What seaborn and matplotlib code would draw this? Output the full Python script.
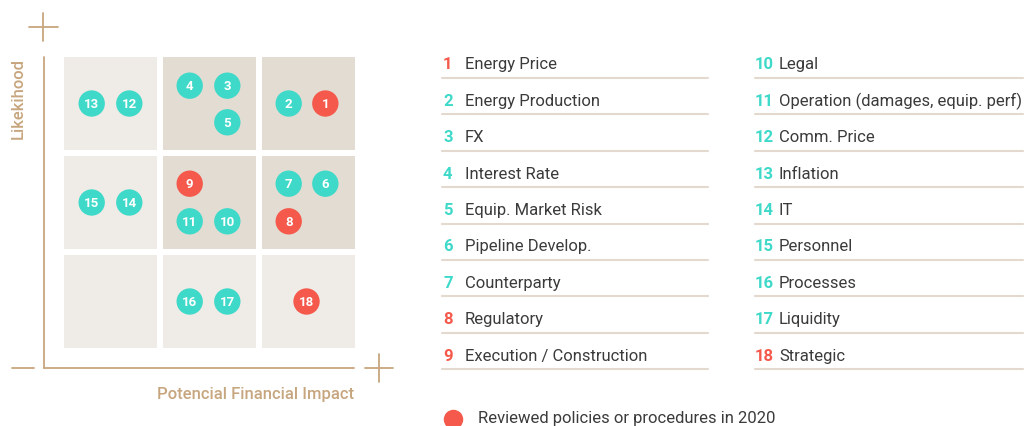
import matplotlib.pyplot as plt
import numpy as np
import pandas as pd
import seaborn as sns
from matplotlib.colors import ListedColormap
from matplotlib.lines import Line2D

# data
risk_ids = list(range(1, 19))
risk_names = ["Energy Price", "Energy Production", "FX", "Interest Rate",
              "Equip. Market Risk", "Pipeline Develop.", "Counterparty",
              "Regulatory", "Execution / Construction", "Legal",
              "Operation (damages, equip. perf)", "Comm. Price", "Inflation",
              "IT", "Personnel", "Processes", "Liquidity", "Strategic"]
reviewed = [True, False, False, False, False, False, False, True, True,
            False, False, False, False, False, False, False, False, True]
# position inside the 3x3 matrix (cell units)
impact = [2.67, 2.30, 1.68, 1.30, 1.68, 2.67, 2.30, 2.30, 1.30,
          1.68, 1.30, 0.69, 0.31, 0.69, 0.31, 1.30, 1.68, 2.48]
likelihood = [2.50, 2.50, 2.68, 2.68, 2.31, 1.69, 1.69, 1.31, 1.69,
              1.31, 1.31, 2.50, 2.50, 1.50, 1.50, 0.50, 0.50, 0.50]
# cell shading, top row first
cell_level = [[0, 1, 1],
              [0, 1, 1],
              [0, 0, 0]]

teal = "#3fd9c9"
red = "#f4594b"
tan = "#c7a67f"
txt = "#3b3b3b"
rule = "#e3d9ce"

sns.set_style("white")
plt.rcParams["font.family"] = ["Roboto", "DejaVu Sans"]

W, H = 1024, 427
fig = plt.figure(figsize=(W / 100, H / 100), dpi=100)


def fx(px):
    return px / W


def fy(py):
    return 1 - py / H


# risk matrix
ax = fig.add_axes([fx(61), fy(352), 297 / W, 297 / H])
sns.heatmap(np.flipud(np.array(cell_level)), cmap=ListedColormap(["#efebe6", "#e3dcd2"]),
            cbar=False, linewidths=4.3, linecolor="white", ax=ax)
ax.set_xlim(0, 3)
ax.set_ylim(0, 3)
ax.set_axis_off()

df = pd.DataFrame({"id": risk_ids, "impact": impact, "likelihood": likelihood,
                   "reviewed": reviewed})
sns.scatterplot(data=df, x="impact", y="likelihood", hue="reviewed",
                palette={True: red, False: teal}, s=360, linewidth=0,
                legend=False, ax=ax, zorder=3)
for _, r in df.iterrows():
    ax.text(r["impact"], r["likelihood"], str(r["id"]), ha="center", va="center",
            color="white", fontsize=9.5, fontweight="bold", zorder=4)

# axis decorations
segs = [((44, 44), (58, 369)), ((44, 354), (369, 369)), ((12, 34), (369, 369)),
        ((29, 58), (28, 28)), ((43, 43), (14, 42)),
        ((365, 393), (369, 369)), ((379, 379), (355, 383))]
for xs, ys in segs:
    fig.add_artist(Line2D([fx(x) for x in xs], [fy(y) for y in ys],
                          transform=fig.transFigure, color=tan, lw=1.3))

fig.text(fx(354), fy(395), "Potencial Financial Impact", ha="right", va="center",
         color=tan, fontsize=12, fontweight="medium")
fig.text(fx(18), fy(58), "Likekihood", ha="center", va="top", rotation=90,
         color=tan, fontsize=12, fontweight="medium")

# numbered list
for i, (rid, name, rev) in enumerate(zip(risk_ids, risk_names, reviewed)):
    col, row = divmod(i, 9)
    y = 65 + row * 36.4
    line_y = 79 + row * 36.4
    c = red if rev else teal
    if col == 0:
        fig.text(fx(443), fy(y), str(rid), ha="left", va="center", color=c,
                 fontsize=12, fontweight="bold")
        fig.text(fx(465), fy(y), name, ha="left", va="center", color=txt, fontsize=12)
        xs = (442, 708)
    else:
        fig.text(fx(755), fy(y), str(rid), ha="left", va="center", color=c,
                 fontsize=12, fontweight="bold")
        fig.text(fx(779), fy(y), name, ha="left", va="center", color=txt, fontsize=12)
        xs = (755, 1023)
    fig.add_artist(Line2D([fx(xs[0]), fx(xs[1])], [fy(line_y)] * 2,
                          transform=fig.transFigure, color=rule, lw=1.5))

# key
fig.add_artist(Line2D([fx(453)], [fy(420)], transform=fig.transFigure, marker="o",
                      markersize=13, color=red, linestyle="none"))
fig.text(fx(478), fy(419), "Reviewed policies or procedures in 2020", ha="left",
         va="center", color=txt, fontsize=12)

fig.savefig("out.png", dpi=100, facecolor="white")
